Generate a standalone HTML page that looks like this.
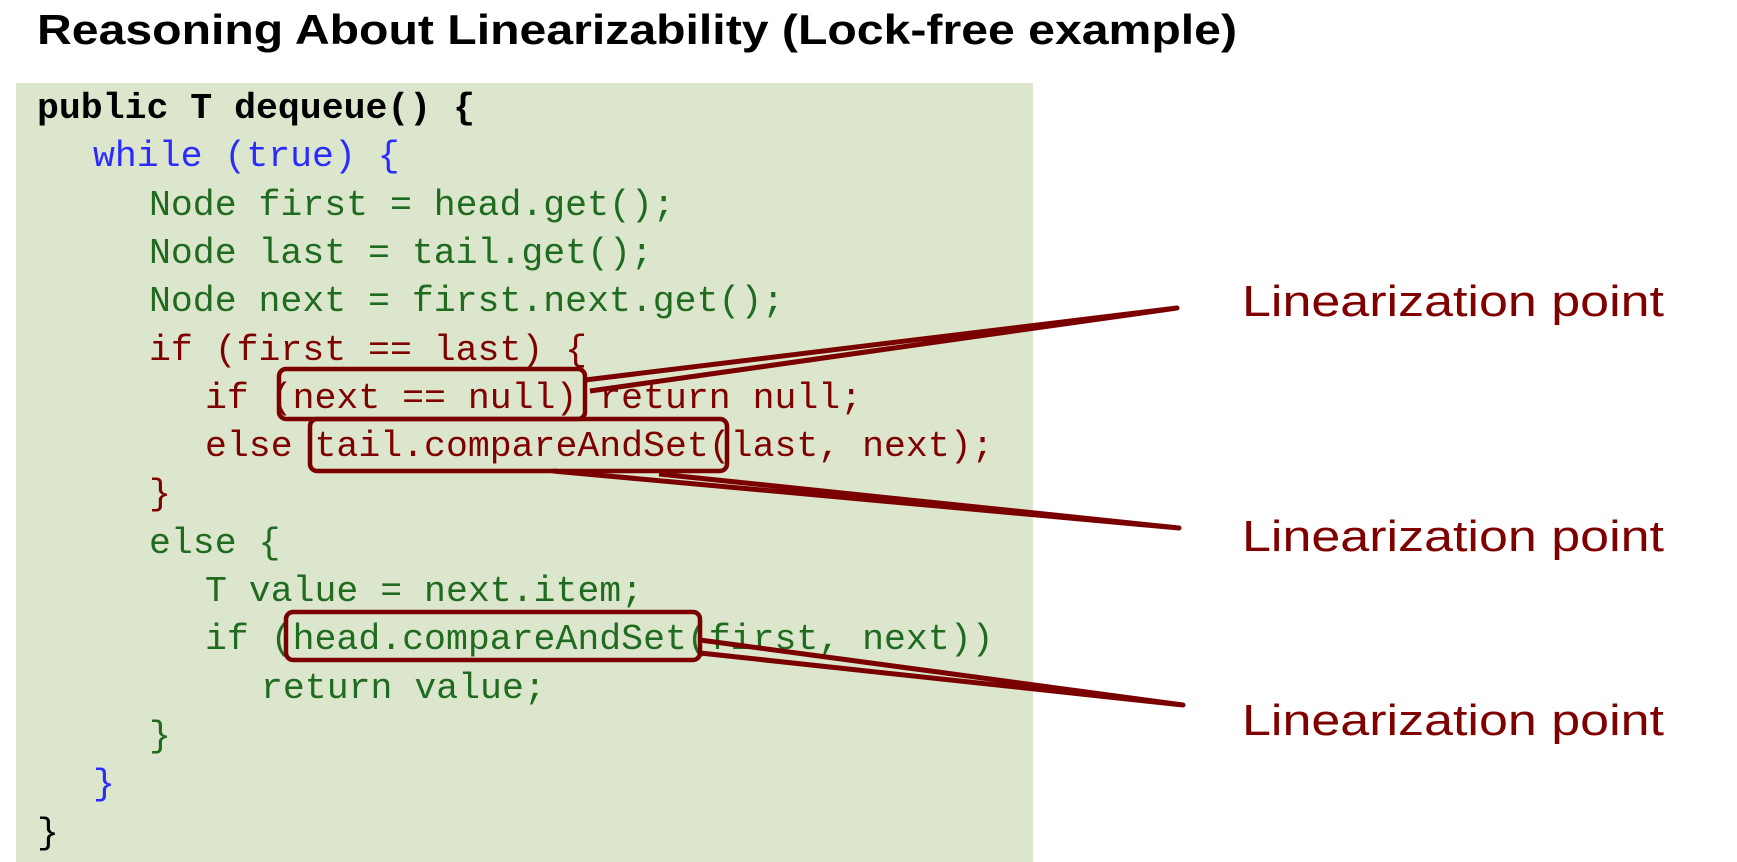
<!DOCTYPE html>
<html><head><meta charset="utf-8"><style>
html,body{margin:0;padding:0;background:#fff;width:1737px;height:862px;overflow:hidden}
svg{display:block}
.c{font-family:"Liberation Mono",monospace;font-size:36.5px}
.g{fill:#1f6b1f}.r{fill:#7f0000}.b{fill:#2b2bff}.k{fill:#000;font-weight:bold}
.l{font-family:"Liberation Sans",sans-serif;font-size:44px;fill:#800000}
</style></head><body>
<svg width="1737" height="862" viewBox="0 0 1737 862" xmlns="http://www.w3.org/2000/svg">
<text x="37" y="44" font-family="Liberation Sans,sans-serif" font-weight="bold" font-size="42" textLength="1200" lengthAdjust="spacingAndGlyphs">Reasoning About Linearizability (Lock-free example)</text>
<rect x="16" y="83" width="1017" height="779" fill="#dce6cc"/>
<g class="c">
<text class="k" x="37" y="118" textLength="438" lengthAdjust="spacingAndGlyphs">public T dequeue() {</text>
<text class="b" x="93" y="166">while (true) {</text>
<text class="g" x="149" y="215">Node first = head.get();</text>
<text class="g" x="149" y="263">Node last = tail.get();</text>
<text class="g" x="149" y="311">Node next = first.next.get();</text>
<text class="r" x="149" y="360">if (first == last) {</text>
<text class="r" x="205" y="408">if (next == null) return null;</text>
<text class="r" x="205" y="456">else tail.compareAndSet(last, next);</text>
<text class="r" x="149" y="504">}</text>
<text class="g" x="149" y="553">else {</text>
<text class="g" x="205" y="601">T value = next.item;</text>
<text class="g" x="205" y="649">if (head.compareAndSet(first, next))</text>
<text class="g" x="261" y="698">return value;</text>
<text class="g" x="149" y="746">}</text>
<text class="b" x="93" y="794">}</text>
<text class="k" x="37" y="843" style="font-weight:normal">}</text>
</g>
<g fill="none" stroke="#7a0000" stroke-width="4.5">
<rect x="279" y="369" width="306" height="50" rx="7"/>
<rect x="310" y="419" width="417" height="52" rx="7"/>
<rect x="286" y="612" width="414" height="48" rx="7"/>
</g>
<g fill="none" stroke="#7a0000" stroke-width="5" stroke-linejoin="round">
<polyline points="585,380 1177,308 590,391"/>
<polyline points="553,471 1179,528 659,474"/>
<polyline points="700,640 1183,705 700,653"/>
</g>
<text class="l" x="1242" y="316" textLength="422" lengthAdjust="spacingAndGlyphs">Linearization point</text>
<text class="l" x="1242" y="551" textLength="422" lengthAdjust="spacingAndGlyphs">Linearization point</text>
<text class="l" x="1242" y="735" textLength="422" lengthAdjust="spacingAndGlyphs">Linearization point</text>
</svg>
</body></html>
